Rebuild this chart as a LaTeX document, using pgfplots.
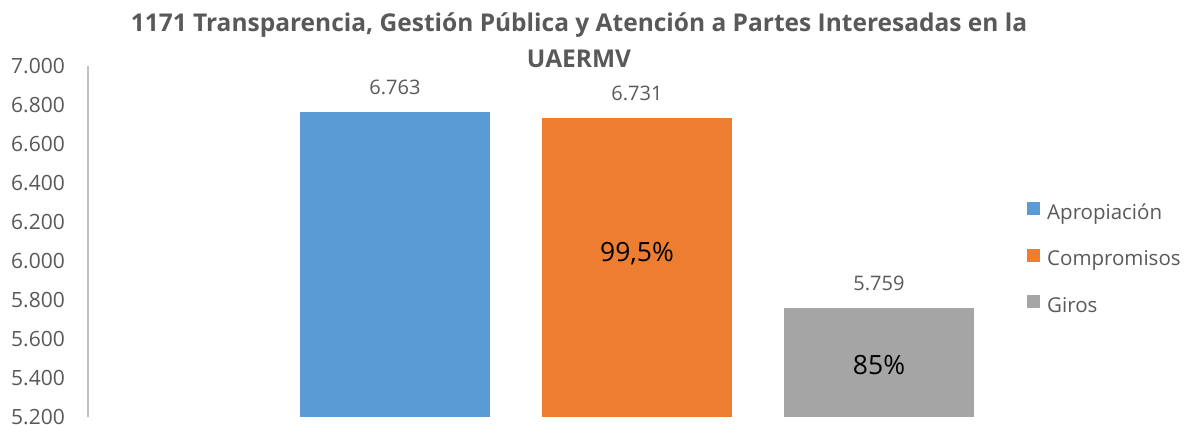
\documentclass[border=0pt]{standalone}
\usepackage{pgfplots}
\pgfplotsset{compat=1.18}
\usepackage{fontspec}
\setmainfont{Open Sans}
\definecolor{cblue}{HTML}{5B9BD5}
\definecolor{corange}{HTML}{ED7D31}
\definecolor{cgray}{HTML}{A5A5A5}
\definecolor{txt}{HTML}{595959}
\definecolor{axl}{HTML}{BFBFBF}
\begin{document}
\begin{tikzpicture}
\path[use as bounding box] (-88pt,-8pt) rectangle (1103pt,417pt);
\begin{axis}[
  at={(0pt,0pt)}, anchor=south west,
  scale only axis, width=912pt, height=351pt,
  xmin=-1.2686, xmax=2.5, ymin=5.2, ymax=7.0,
  axis x line=none, axis y line*=left,
  axis line style={axl, line width=1.2pt, -},
  ytick={5.2,5.4,...,7.01},
  major tick length=0pt,
  /pgf/number format/assume math mode=true,
  yticklabel={\pgfmathprintnumber[fixed, fixed zerofill, precision=3]{\tick}},
  yticklabel style={font=\fontsize{21}{25}\selectfont, text=txt, inner sep=0pt, anchor=east, xshift=-23pt},
  ybar, bar width=190pt, bar shift=0pt,
  nodes near coords={\pgfmathprintnumber[fixed, fixed zerofill, precision=3]{\pgfplotspointmeta}},
  nodes near coords style={font=\fontsize{20}{24}\selectfont, text=txt, inner sep=0pt, anchor=south, yshift=17pt},
  legend style={draw=none, fill=none, at={(1.0296,0.45)}, anchor=west, font=\fontsize{20.5}{24}\selectfont, text=txt, row sep=25.5pt, inner sep=0pt, nodes={inner sep=0pt, text height=14pt, text depth=4pt}},
  legend cell align=left,
  legend image code/.code={\fill[#1] (0pt,-1pt) rectangle (13pt,12pt);},
  clip=false,
]
\addplot[fill=cblue, draw=none] coordinates {(0,6.763)};
\addlegendentry{\hspace{7pt}Apropiación}
\addplot[fill=corange, draw=none] coordinates {(1,6.731)};
\addlegendentry{\hspace{7pt}Compromisos}
\addplot[fill=cgray, draw=none] coordinates {(2,5.759)};
\addlegendentry{\hspace{7pt}Giros}
\node[font=\fontsize{26.5}{30}\selectfont, text=black] at (axis cs:1,6.04) {99,5\%};
\node[font=\fontsize{26.5}{30}\selectfont, text=black] at (axis cs:2,5.467) {85\%};
\end{axis}
\node[font=\bfseries\fontsize{24.5}{36}\selectfont, text=txt, align=center] at (491pt,377pt) {1171 Transparencia, Gestión Pública y Atención a Partes Interesadas en la\\UAERMV};
\end{tikzpicture}
\end{document}
